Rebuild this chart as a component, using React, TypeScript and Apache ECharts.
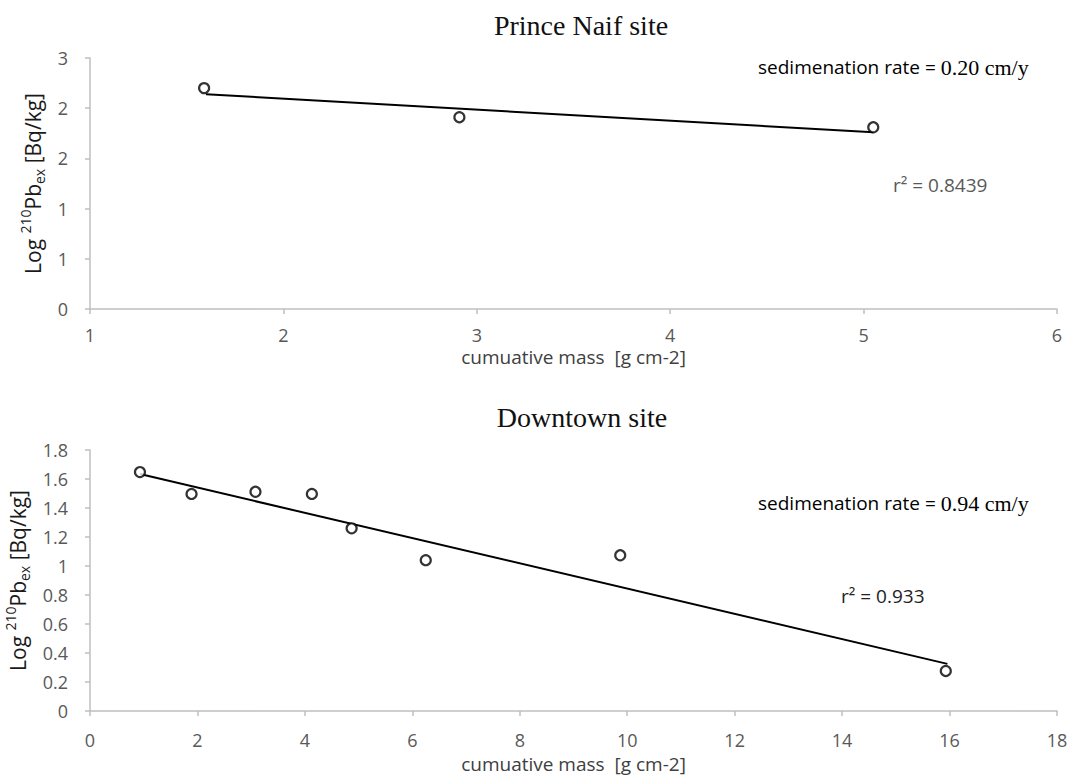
import React, { useEffect, useRef } from "react";
import * as echarts from "echarts";

// ---- Prince Naif site (top) ----
const naifX = [1.59, 2.91, 5.05];
const naifY = [2.2, 1.91, 1.81];
const naifTrendX = [1.6, 5.05];
const naifTrendY = [2.14, 1.76];
const naifYTickLabels = ["0", "1", "1", "2", "2", "3"];

// ---- Downtown site (bottom) ----
const downX = [0.93, 1.89, 3.08, 4.13, 4.87, 6.25, 9.87, 15.93];
const downY = [1.648, 1.497, 1.512, 1.497, 1.26, 1.04, 1.074, 0.276];
const downTrendX = [0.93, 15.96];
const downTrendY = [1.634, 0.325];

const titles = ["Prince Naif site", "Downtown site"];
const rateLabels = ["0.20 cm/y", "0.94 cm/y"];
const r2Labels = ["0.8439", "0.933"];
const xName = "cumuative mass  [g cm-2]";

const SANS = "'Open Sans', 'Liberation Sans', Arial, sans-serif";
const SERIF = "'Liberation Serif', 'Times New Roman', serif";
const AXIS_GRAY = "#BFBFBF";
const LABEL_GRAY = "#595959";

const yNameRich = {
  base: { fontFamily: SANS, fontSize: 21, color: "#1a1a1a", lineHeight: 28 },
  sup: { fontFamily: SANS, fontSize: 14, color: "#1a1a1a", verticalAlign: "top", lineHeight: 28, padding: [0, 0, 8, 0] },
  sub: { fontFamily: SANS, fontSize: 14, color: "#1a1a1a", verticalAlign: "bottom", lineHeight: 28, padding: [8, 0, 0, 0] },
};
const yName = "{base|Log }{sup|210}{base|Pb}{sub|ex}{base| [Bq/kg]}";

function axisCommon() {
  return {
    axisLine: { show: true, lineStyle: { color: AXIS_GRAY, width: 1.5 } },
    axisTick: { show: true, length: 5, lineStyle: { color: AXIS_GRAY, width: 1.5 } },
    splitLine: { show: false },
    axisLabel: { color: LABEL_GRAY, fontFamily: SANS, fontSize: 18, margin: 20 },
  };
}

export default function App() {
  const ref = useRef<HTMLDivElement>(null);
  useEffect(() => {
    if (!ref.current) return;
    const chart = echarts.init(ref.current, undefined, { renderer: "svg" });
    const scatterStyle = {
      color: "#ffffff",
      borderColor: "#000000",
      borderWidth: 2.2,
    };
    const titleStyle = { fontFamily: SERIF, fontSize: 28, fontWeight: "normal", color: "#111" };
    const rateRich = {
      s: { fontFamily: SANS, fontSize: 19, color: "#111" },
      t: { fontFamily: SERIF, fontSize: 22, color: "#111" },
    };
    chart.setOption({
      animation: false,
      backgroundColor: "#ffffff",
      title: [
        { text: titles[0], left: 576, top: 6, textAlign: "center", textStyle: titleStyle },
        { text: titles[1], left: 577, top: 398, textAlign: "center", textStyle: titleStyle },
      ],
      grid: [
        { left: 90, top: 58, width: 967, height: 251, outerBoundsMode: "none", containLabel: false },
        { left: 90, top: 450, width: 967, height: 261, outerBoundsMode: "none", containLabel: false },
      ],
      xAxis: [
        {
          gridIndex: 0,
          type: "value",
          min: 1,
          max: 6,
          interval: 1,
          name: xName,
          nameLocation: "middle",
          nameGap: 40,
          nameTextStyle: { fontFamily: SANS, fontSize: 19, color: "#404040", lineHeight: 16 },
          ...axisCommon(),
          axisLabel: { color: LABEL_GRAY, fontFamily: SANS, fontSize: 18, margin: 19, lineHeight: 14 },
        },
        {
          gridIndex: 1,
          type: "value",
          min: 0,
          max: 18,
          interval: 2,
          name: xName,
          nameLocation: "middle",
          nameGap: 43,
          nameTextStyle: { fontFamily: SANS, fontSize: 19, color: "#404040" },
          ...axisCommon(),
        },
      ],
      yAxis: [
        {
          gridIndex: 0,
          type: "value",
          min: 0,
          max: 2.5,
          interval: 0.5,
          name: yName,
          nameLocation: "middle",
          nameGap: 34,
          nameRotate: 90,
          nameTextStyle: { rich: yNameRich },
          ...axisCommon(),
          axisLabel: {
            color: LABEL_GRAY,
            fontFamily: SANS,
            fontSize: 18,
            margin: 22,
            formatter: (_v: number, i: number) => naifYTickLabels[i] ?? "",
          },
        },
        {
          gridIndex: 1,
          type: "value",
          min: 0,
          max: 1.8,
          interval: 0.2,
          name: yName,
          nameLocation: "middle",
          nameGap: 54,
          nameRotate: 90,
          nameTextStyle: { rich: yNameRich },
          ...axisCommon(),
          axisLabel: {
            color: LABEL_GRAY,
            fontFamily: SANS,
            fontSize: 18,
            margin: 22,
            formatter: (v: number) => String(Math.round(v * 10) / 10),
          },
        },
      ],
      series: [
        {
          type: "line",
          xAxisIndex: 0,
          yAxisIndex: 0,
          data: naifTrendX.map((x, i) => [x, naifTrendY[i]]),
          symbol: "none",
          lineStyle: { color: "#000", width: 2 },
          z: 2,
        },
        {
          type: "scatter",
          xAxisIndex: 0,
          yAxisIndex: 0,
          data: naifX.map((x, i) => [x, naifY[i]]),
          symbol: "circle",
          symbolSize: 10,
          itemStyle: scatterStyle,
          z: 3,
        },
        {
          type: "line",
          xAxisIndex: 1,
          yAxisIndex: 1,
          data: downTrendX.map((x, i) => [x, downTrendY[i]]),
          symbol: "none",
          lineStyle: { color: "#000", width: 2 },
          z: 2,
        },
        {
          type: "scatter",
          xAxisIndex: 1,
          yAxisIndex: 1,
          data: downX.map((x, i) => [x, downY[i]]),
          symbol: "circle",
          symbolSize: 10,
          itemStyle: scatterStyle,
          z: 3,
        },
      ],
      graphic: [
        {
          type: "text",
          left: 758,
          top: 56,
          style: { text: "{s|sedimenation rate = }{t|" + rateLabels[0] + "}", rich: rateRich },
        },
        {
          type: "text",
          left: 893,
          top: 175,
          style: { text: "r² = " + r2Labels[0], fontFamily: SANS, fontSize: 19, fill: "#595959" },
        },
        {
          type: "text",
          left: 758,
          top: 492,
          style: { text: "{s|sedimenation rate = }{t|" + rateLabels[1] + "}", rich: rateRich },
        },
        {
          type: "text",
          left: 841,
          top: 586,
          style: { text: "r² = " + r2Labels[1], fontFamily: SANS, fontSize: 19, fill: "#222" },
        },
      ],
    });
    return () => chart.dispose();
  }, []);
  return (
    <div
      ref={ref}
      style={{ position: "fixed", left: 0, top: 0, width: 1069, height: 778, background: "#fff" }}
    />
  );
}
